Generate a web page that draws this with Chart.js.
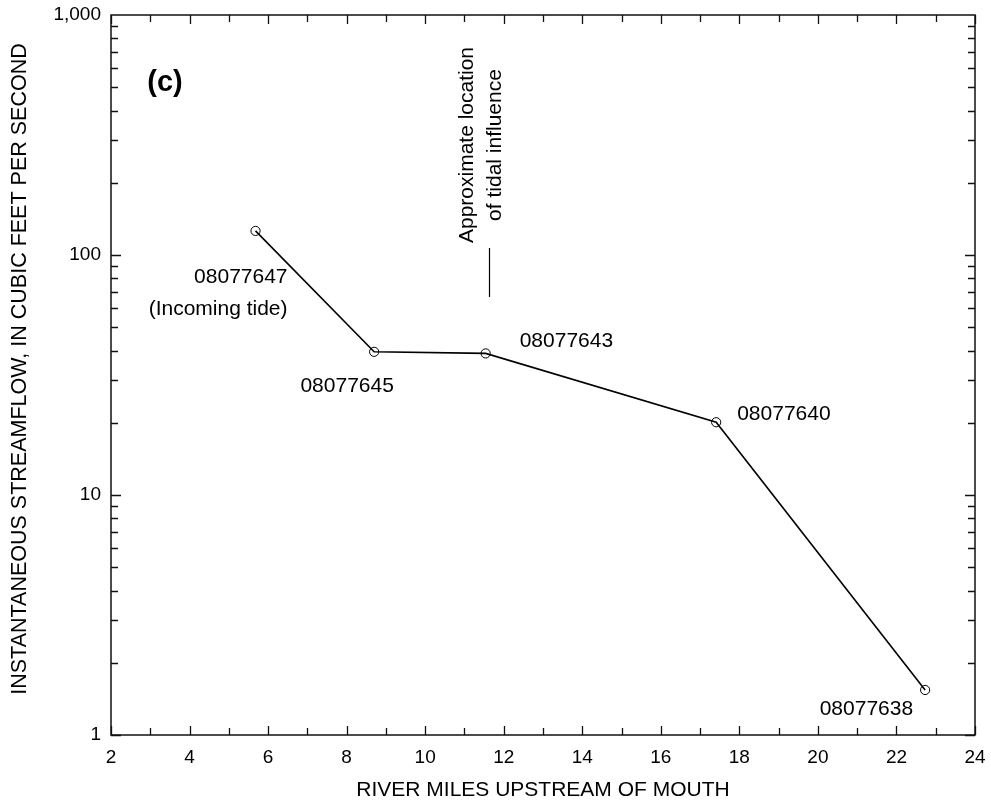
<!DOCTYPE html>
<html>
<head>
<meta charset="utf-8">
<script src="https://cdn.jsdelivr.net/npm/chart.js@4.4.1/dist/chart.umd.min.js"></script>
<style>
  html, body { margin: 0; padding: 0; background: #ffffff; }
  #wrap { width: 991px; height: 801px; }
</style>
</head>
<body>
<div id="wrap"><canvas id="chart" width="991" height="801"></canvas></div>
<script>
// Streamflow measured at gaging stations along the river
const stations   = ['08077647', '08077645', '08077643', '08077640', '08077638'];
const riverMiles = [5.68, 8.70, 11.54, 17.41, 22.73];
const streamflow = [126, 39.5, 38.9, 20.1, 1.54];
const stationNotes = ['(Incoming tide)', '', '', '', ''];

// Axis labelling
const xTickStep   = 2;
const yTickValues = [1, 10, 100, 1000];
const xTitle      = 'RIVER MILES UPSTREAM OF MOUTH';
const yTitle      = 'INSTANTANEOUS STREAMFLOW, IN CUBIC FEET PER SECOND';
const tidalMile   = 11.62;
const tidalText   = ['Approximate location', 'of tidal influence'];
const panelLetter = '(c)';

const FONT = '"Liberation Sans", Arial, Helvetica, sans-serif';

// Label placement relative to each station's marker (px)
const labelPlacement = [
  { dx: 32,    dy: 46, align: 'right' },
  { dx: -27,   dy: 34, align: 'center' },
  { dx: 34,    dy: -12, align: 'left' },
  { dx: 21,    dy: -8, align: 'left' },
  { dx: -12,   dy: 19, align: 'right' }
];

const points = riverMiles.map((m, i) => ({ x: m, y: streamflow[i] }));

// Frame, inward tick marks, station labels and the tidal-influence marker
const decorations = {
  id: 'decorations',
  beforeDatasetsDraw(chart) {
    const { ctx, chartArea: a, scales: { x, y } } = chart;
    ctx.save();
    ctx.strokeStyle = '#111';
    ctx.lineWidth = 1.5;
    ctx.strokeRect(a.left, a.top, a.right - a.left, a.bottom - a.top);
    ctx.lineWidth = 1.3;
    ctx.beginPath();
    for (let v = x.min; v <= x.max; v++) {
      const px = Math.round(x.getPixelForValue(v)) + 0.5;
      const len = (v % 2 === 0) ? 9 : 7;
      ctx.moveTo(px, a.bottom); ctx.lineTo(px, a.bottom - len);
      ctx.moveTo(px, a.top);    ctx.lineTo(px, a.top + len);
    }
    for (let d = 1; d < 1000; d *= 10) {
      for (let m = 1; m <= 9; m++) {
        const py = Math.round(y.getPixelForValue(m * d)) + 0.5;
        const len = (m === 1) ? 10 : 7;
        ctx.moveTo(a.left, py);  ctx.lineTo(a.left + len, py);
        ctx.moveTo(a.right, py); ctx.lineTo(a.right - len, py);
      }
    }
    ctx.stroke();

    // Vertical axis title
    ctx.fillStyle = '#000';
    ctx.font = `21.5px ${FONT}`;
    ctx.textAlign = 'center';
    ctx.textBaseline = 'middle';
    ctx.save();
    ctx.translate(20, (a.top + a.bottom) / 2 - 6);
    ctx.rotate(-Math.PI / 2);
    ctx.fillText(yTitle, 0, 0);
    ctx.restore();
    ctx.restore();
  },
  afterDatasetsDraw(chart) {
    const { ctx, chartArea: a, scales: { x, y } } = chart;
    ctx.save();
    ctx.fillStyle = '#000';
    ctx.font = `21px ${FONT}`;
    ctx.textBaseline = 'middle';
    stations.forEach((name, i) => {
      const p = labelPlacement[i];
      const px = x.getPixelForValue(riverMiles[i]) + p.dx;
      const py = y.getPixelForValue(streamflow[i]) + p.dy;
      ctx.textAlign = p.align;
      ctx.fillText(name, px, py);
      if (stationNotes[i]) ctx.fillText(stationNotes[i], px, py + 32);
    });

    // Tidal influence marker
    const tx = x.getPixelForValue(tidalMile);
    ctx.strokeStyle = '#000';
    ctx.lineWidth = 1.2;
    ctx.beginPath();
    ctx.moveTo(Math.round(tx) + 0.5, 248);
    ctx.lineTo(Math.round(tx) + 0.5, 297);
    ctx.stroke();
    ctx.save();
    ctx.translate(tx, 145);
    ctx.rotate(-Math.PI / 2);
    ctx.textAlign = 'center';
    ctx.fillText(tidalText[0], 0, -22);
    ctx.fillText(tidalText[1], 0, 6);
    ctx.restore();

    // Panel letter
    ctx.font = `bold 29px ${FONT}`;
    ctx.textAlign = 'center';
    ctx.fillText(panelLetter, a.left + 54, 83);
    ctx.restore();
  }
};

new Chart(document.getElementById('chart'), {
  type: 'scatter',
  data: {
    datasets: [{
      data: points,
      showLine: true,
      borderColor: '#000',
      borderWidth: 1.6,
      tension: 0,
      pointStyle: 'circle',
      pointRadius: 4.6,
      pointBorderWidth: 1,
      pointBorderColor: '#000',
      pointBackgroundColor: 'rgba(255,255,255,0)'
    }]
  },
  options: {
    responsive: false,
    animation: false,
    devicePixelRatio: 1,
    layout: { padding: { top: 15, right: 16, left: 0, bottom: 0 } },
    plugins: { legend: { display: false }, tooltip: { enabled: false } },
    scales: {
      x: {
        type: 'linear',
        min: 2, max: 24,
        grid: { display: false, drawTicks: false },
        border: { display: false },
        ticks: {
          stepSize: xTickStep,
          color: '#000',
          padding: 11,
          font: { family: FONT, size: 19 }
        },
        title: {
          display: true,
          text: xTitle,
          color: '#000',
          font: { family: FONT, size: 21, lineHeight: 1 },
          padding: { top: 0, bottom: 0 }
        },
        afterFit(scale) {
          scale.height = 66;
          scale.paddingLeft = 0;
          scale.paddingRight = 0;
        }
      },
      y: {
        type: 'logarithmic',
        min: 1, max: 1000,
        grid: { display: false, drawTicks: false },
        border: { display: false },
        ticks: {
          autoSkip: false,
          color: '#000',
          padding: 10,
          font: { family: FONT, size: 19 },
          callback(value) {
            const v = Number(value);
            const hit = yTickValues.find(t => Math.abs(t - v) < 1e-9);
            return hit ? hit.toLocaleString('en-US') : '';
          }
        },
        title: { display: false },
        afterFit(scale) {
          scale.width = 111;
          scale.paddingTop = 0;
          scale.paddingBottom = 0;
        }
      }
    }
  },
  plugins: [decorations]
});
</script>
</body>
</html>
